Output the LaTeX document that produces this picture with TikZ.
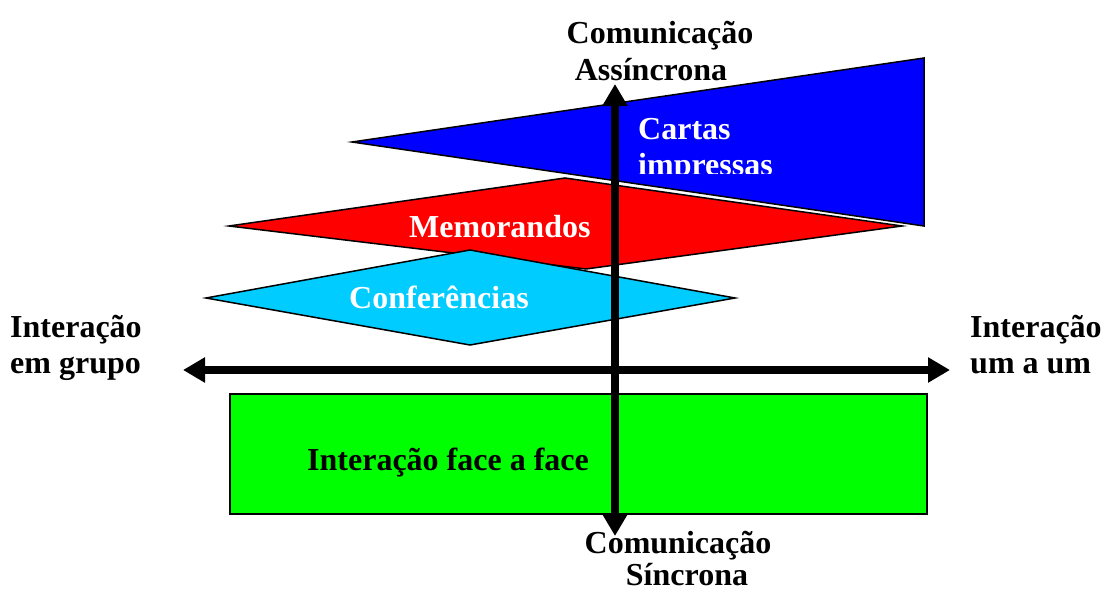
\documentclass[tikz,border=0pt]{standalone}
\usepackage{fontspec}
\setmainfont{Liberation Serif}
\usetikzlibrary{arrows.meta}
\definecolor{azul}{RGB}{0,0,255}
\definecolor{vermelho}{RGB}{255,0,0}
\definecolor{ciano}{RGB}{0,204,255}
\definecolor{verde}{RGB}{0,255,0}

\begin{document}
\begin{tikzpicture}[x=1pt, y=-1pt,
      every node/.style = {inner sep=0pt, font=\fontsize{32}{36}\selectfont\bfseries},
      plano/.style = {draw=black, line width=1.5pt},
      eixo/.style = {line width=8pt,
        {Triangle[length=22pt,width=24pt]}-{Triangle[length=22pt,width=24pt]}}]
  \useasboundingbox (0,0) rectangle (1104,592);
  \fill[plano, fill=azul] (352,142) -- (924,58) -- (924,226) -- cycle;
  \begin{scope}
    \clip (600,100) rectangle (800,173);
    \node[anchor=base west, white] (cartas) at (638,139) {Cartas};
    \node[anchor=base west, white] (impressas) at (638,175) {impressas};
  \end{scope}
  \fill[plano, fill=vermelho] (229,226) -- (565,178) -- (902,226) -- (586,269) -- cycle;
  \node[anchor=base west, white] (memo) at (409,237) {Memorandos};
  \fill[plano, fill=ciano] (206,298) -- (470,250) -- (735,298) -- (470,345) -- cycle;
  \node[anchor=base west, white] (conf) at (349,308) {Conferências};
  \fill[plano, fill=verde] (230,394) rectangle (927,514);
  \node[anchor=base west] (face) at (307,470) {Interação face a face};
  \coordinate (oeste) at (183,370);
  \coordinate (leste) at (950,370);
  \coordinate (norte) at (615,84);
  \coordinate (sul) at (615,536);
  \draw[eixo] (oeste) -- (leste);
  \draw[eixo] (norte) -- (sul);
  \node[anchor=base] (assinc1) at (660,43) {Comunicação};
  \node[anchor=base] (assinc2) at (651,80) {Assíncrona};
  \node[anchor=base] (sinc1) at (678,553) {Comunicação};
  \node[anchor=base] (sinc2) at (687,585) {Síncrona};
  \node[anchor=base west] (grupo1) at (10,337) {Interação};
  \node[anchor=base west] (grupo2) at (10,373) {em grupo};
  \node[anchor=base west] (um1) at (970,337) {Interação};
  \node[anchor=base west] (um2) at (970,373) {um a um};
\end{tikzpicture}
\end{document}
